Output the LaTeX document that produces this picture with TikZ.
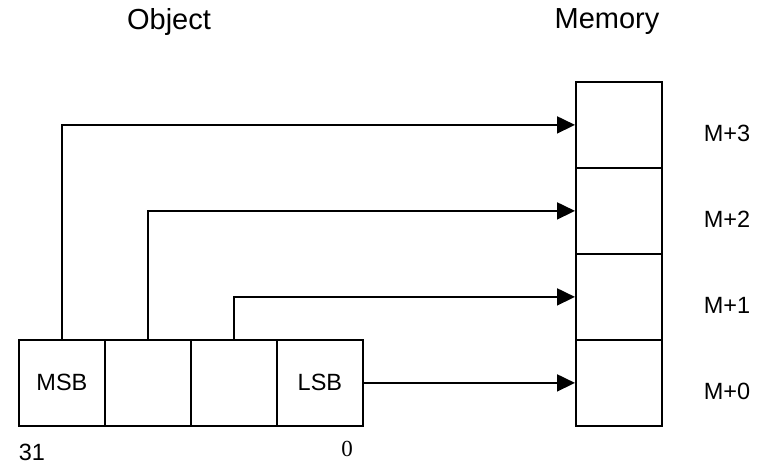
\documentclass[tikz,border=0pt]{standalone}
\usepackage{fontspec}
\setmainfont{Liberation Sans}
\newfontfamily\serifnum{Liberation Serif}
\usetikzlibrary{arrows.meta}
\tikzset{
  cell/.style={draw, line width=1.8pt, minimum width=86pt, minimum height=86pt, inner sep=0pt, anchor=north west},
  conn/.style={line width=1.8pt, -{Triangle[length=18pt,width=17pt]}},
  lbl/.style={font=\fontsize{23.5}{26}\selectfont, inner sep=0pt},
  title/.style={font=\fontsize{29}{32}\selectfont, inner sep=0pt}
}
\begin{document}
\begin{tikzpicture}[x=1pt,y=-1pt]
\useasboundingbox (0,0) rectangle (766,464);
% object cells
\node[cell] (o3) at (18,339) {};
\node[cell] (o2) at (104,339) {};
\node[cell] (o1) at (190,339) {};
\node[cell] (o0) at (276,339) {};
% memory cells
\node[cell] (m3) at (575,81) {};
\node[cell] (m2) at (575,167) {};
\node[cell] (m1) at (575,253) {};
\node[cell] (m0) at (575,339) {};
% labels
\node[lbl] (msb) at (o3.center) {MSB};
\node[lbl] (lsb) at (o0.center) {LSB};
\node[title] (tobj) at (169,22) {Object};
\node[title] (tmem) at (607,22) {Memory};
\node[lbl] (l3) at (727,133) {M+3};
\node[lbl] (l2) at (727,219) {M+2};
\node[lbl] (l1) at (727,305) {M+1};
\node[lbl] (l0) at (727,391) {M+0};
\node[lbl] (n31) at (32,452) {31};
\node[inner sep=0pt, font=\serifnum\fontsize{23}{26}\selectfont] (n0) at (347,449) {0};
% connectors
\draw[conn] (o3.north) |- (m3.west);
\draw[conn] (o2.north) |- (m2.west);
\draw[conn] (o1.north) |- (m1.west);
\draw[conn] (o0.east) -- (m0.west);
\end{tikzpicture}
\end{document}
